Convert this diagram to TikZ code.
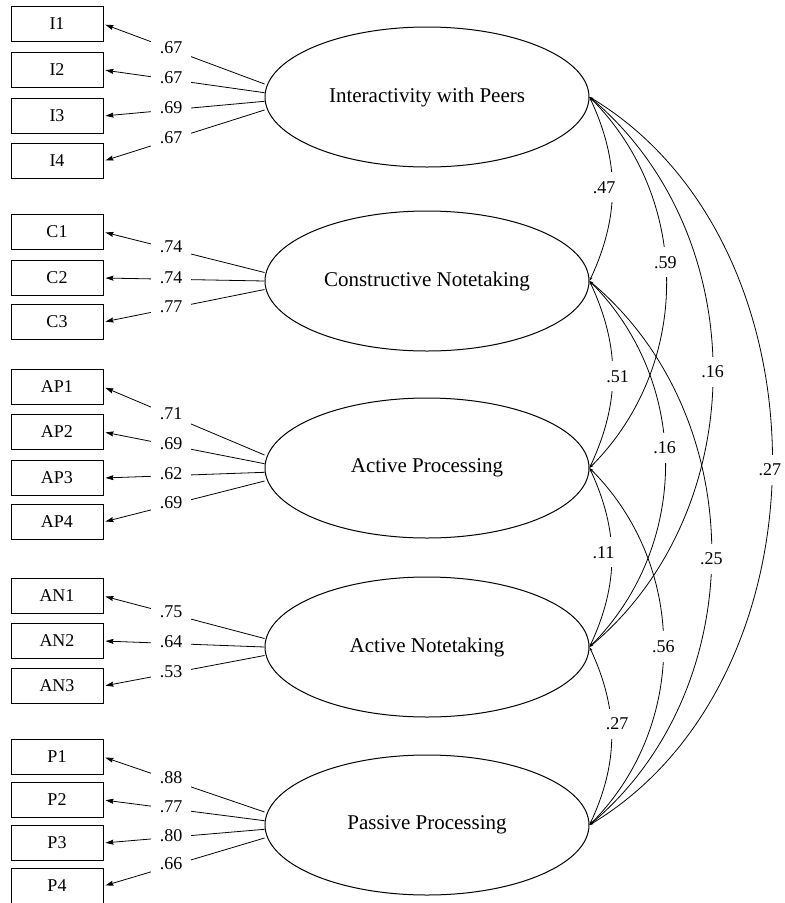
\documentclass[tikz,border=0pt]{standalone}
\usepackage{fontspec}
\setmainfont{Liberation Serif}
\usetikzlibrary{shapes,positioning,arrows.meta}

\tikzset{
  ind/.style={draw,line width=1pt,minimum width=92pt,minimum height=35pt,inner sep=0pt,font=\fontsize{18}{21}\selectfont},
  lat/.style={draw,ellipse,line width=1pt,minimum width=324pt,minimum height=140pt,inner sep=0pt,font=\fontsize{21}{25}\selectfont},
  wt/.style={fill=white,inner sep=9pt,font=\fontsize{18}{21}\selectfont},
  load/.style={-{Stealth[length=8pt,width=5pt,inset=1pt]},shorten >=2pt},
  cov/.style={{Stealth[length=4pt,width=2.5pt]}-{Stealth[length=4pt,width=2.5pt]}}
}

\begin{document}
\begin{tikzpicture}[x=1pt,y=-1pt,line width=.8pt]
\useasboundingbox (0,0) rectangle (785,903);
\node[lat] (ip) at (427,97) {Interactivity with Peers};
\node[lat] (cn) at (427,281) {Constructive Notetaking};
\node[lat] (ap) at (427,468) {Active Processing};
\node[lat] (an) at (427,647) {Active Notetaking};
\node[lat] (pp) at (427,825) {Passive Processing};

\foreach \n/\y in {I1/24,I2/70,I3/116,I4/161,C1/232,C2/278,C3/322,
  AP1/387,AP2/432,AP3/478,AP4/522,AN1/596,AN2/641,AN3/686,
  P1/757,P2/800,P3/843,P4/886}
  \node[ind] (\n) at (57,\y) {\n};

\foreach \b/\s/\v in {I1/13/.67,I2/4.3/.67,I3/-4.3/.69,I4/-13/.67}
  \draw[load] ([yshift=\s pt]ip.west) -- node[wt,pos=.58,yshift=2pt]{\v} (\b.east);
\foreach \b/\s/\v in {C1/8.5/.74,C2/0/.74,C3/-8.5/.77}
  \draw[load] ([yshift=\s pt]cn.west) -- node[wt,pos=.58,yshift=2pt]{\v} (\b.east);
\foreach \b/\s/\v in {AP1/13/.71,AP2/4.3/.69,AP3/-4.3/.62,AP4/-13/.69}
  \draw[load] ([yshift=\s pt]ap.west) -- node[wt,pos=.58,yshift=2pt]{\v} (\b.east);
\foreach \b/\s/\v in {AN1/8.5/.75,AN2/0/.64,AN3/-8.5/.53}
  \draw[load] ([yshift=\s pt]an.west) -- node[wt,pos=.58,yshift=2pt]{\v} (\b.east);
\foreach \b/\s/\v in {P1/13/.88,P2/4.3/.77,P3/-4.3/.80,P4/-13/.66}
  \draw[load] ([yshift=\s pt]pp.west) -- node[wt,pos=.58,yshift=2pt]{\v} (\b.east);

\foreach \a/\b/\t/\p/\x/\v in {ip/cn/25/.49/-8/.47,ip/ap/45/.45/0/.59,ip/an/50/.5/0/.16,ip/pp/59/.51/-2/.27,
  cn/ap/25/.51/5/.51,cn/an/45/.46/0/.16,cn/pp/50/.51/0/.25,
  ap/an/25/.47/-8/.11,ap/pp/45/.5/0/.56,an/pp/25/.43/6/.27}
  \draw[cov] (\a.east) to[bend left=\t] node[wt,pos=\p,xshift=\x pt]{\v} (\b.east);
\end{tikzpicture}
\end{document}
